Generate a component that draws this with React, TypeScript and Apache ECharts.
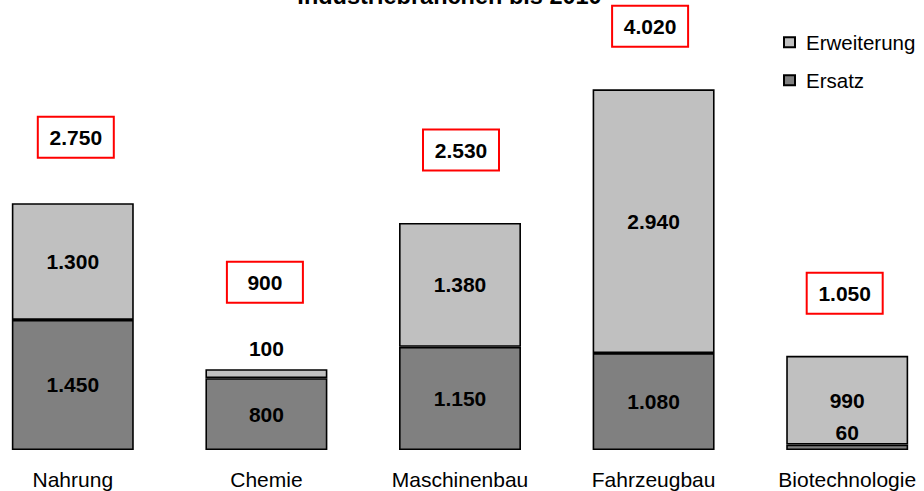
import React, { useEffect, useRef } from 'react';
import * as echarts from 'echarts';

const titleText = 'Industriebranchen bis 2010';
const categories = ['Nahrung', 'Chemie', 'Maschinenbau', 'Fahrzeugbau', 'Biotechnologie'];
const ersatz = [1450, 800, 1150, 1080, 60];
const erweiterung = [1300, 100, 1380, 2940, 990];
const totals = [2750, 900, 2530, 4020, 1050];

// label box offsets (style only)
const totalOffsets = [[3, -66], [-1.5, -87], [1, -73], [-3.5, -63], [-2.5, -62.5]];

const FONT = '"Liberation Sans", Arial, Helvetica, sans-serif';
const fmt = (v: number) => String(v).replace(/\B(?=(\d{3})+(?!\d))/g, '.');

// The chart canvas extends past the window on both sides (as in the reference)
const SHIFT = 24;
const CANVAS_W = 968;

export default function App() {
  const ref = useRef<HTMLDivElement>(null);
  useEffect(() => {
    if (!ref.current) return;
    const chart = echarts.init(ref.current, null, { renderer: 'svg' });
    const segLabel = {
      show: true,
      position: 'inside',
      fontFamily: FONT,
      fontSize: 21,
      fontWeight: 'bold',
      color: '#000',
      formatter: (p: any) => fmt(p.value),
    };
    chart.setOption({
      animation: false,
      backgroundColor: '#fff',
      graphic: [
        {
          type: 'text',
          x: 449.5 + SHIFT,
          y: -4.1,
          style: {
            text: titleText,
            fontFamily: FONT,
            fontSize: 23.5,
            fontWeight: 'bold',
            fill: '#000',
            align: 'center',
            verticalAlign: 'middle',
          },
        },
      ],
      legend: {
        data: ['Erweiterung', 'Ersatz'],
        orient: 'vertical',
        left: 783 + SHIFT,
        top: 31.7,
        padding: 0,
        itemWidth: 11,
        itemHeight: 10,
        itemGap: 17,
        icon: 'rect',
        selectedMode: false,
        itemStyle: { borderColor: '#000', borderWidth: 2 },
        textStyle: { fontFamily: FONT, fontSize: 20.5, lineHeight: 20, color: '#000', padding: [0, 0, 0, 6] },
      },
      grid: { left: 0, right: 0, top: 1.4, bottom: 41, containLabel: false },
      xAxis: {
        type: 'category',
        data: categories,
        axisLine: { show: false },
        axisTick: { show: false },
        axisLabel: { fontFamily: FONT, fontSize: 21, lineHeight: 21, color: '#000', margin: 18.5, interval: 0 },
      },
      yAxis: { type: 'value', min: 0, max: 5000, show: false, splitLine: { show: false } },
      series: [
        {
          name: 'Ersatz',
          type: 'bar',
          stack: 'total',
          barWidth: '63%',
          itemStyle: { color: '#808080', borderColor: '#000', borderWidth: 1.6 },
          label: segLabel,
          data: ersatz.map((v, i) =>
            i === 4 ? { value: v, label: { position: 'top', distance: 2 } } : v
          ),
        },
        {
          name: 'Erweiterung',
          type: 'bar',
          stack: 'total',
          barWidth: '63%',
          itemStyle: { color: '#c0c0c0', borderColor: '#000', borderWidth: 1.6 },
          label: segLabel,
          data: erweiterung.map((v, i) =>
            i === 1 ? { value: v, label: { position: 'top', distance: 10 } } : v
          ),
        },
        {
          name: 'Gesamt',
          type: 'scatter',
          symbolSize: 1,
          itemStyle: { color: 'rgba(0,0,0,0)', opacity: 1 },
          silent: true,
          z: 5,
          label: {
            show: true,
            position: 'inside',
            fontFamily: FONT,
            fontSize: 21,
            fontWeight: 'bold',
            color: '#000',
            width: 52,
            height: 21,
            lineHeight: 21,
            align: 'center',
            verticalAlign: 'middle',
            padding: [9, 11],
            borderColor: '#ff0000',
            borderWidth: 2,
            backgroundColor: '#fff',
            formatter: (p: any) => fmt(p.value[1] ?? p.value),
          },
          data: totals.map((v, i) => ({ value: [i, v], label: { offset: totalOffsets[i] } })),
        },
      ],
    });
    return () => chart.dispose();
  }, []);
  return (
    <div
      ref={ref}
      style={{ position: 'fixed', left: -SHIFT, top: 0, width: CANVAS_W, height: 491 }}
    />
  );
}
